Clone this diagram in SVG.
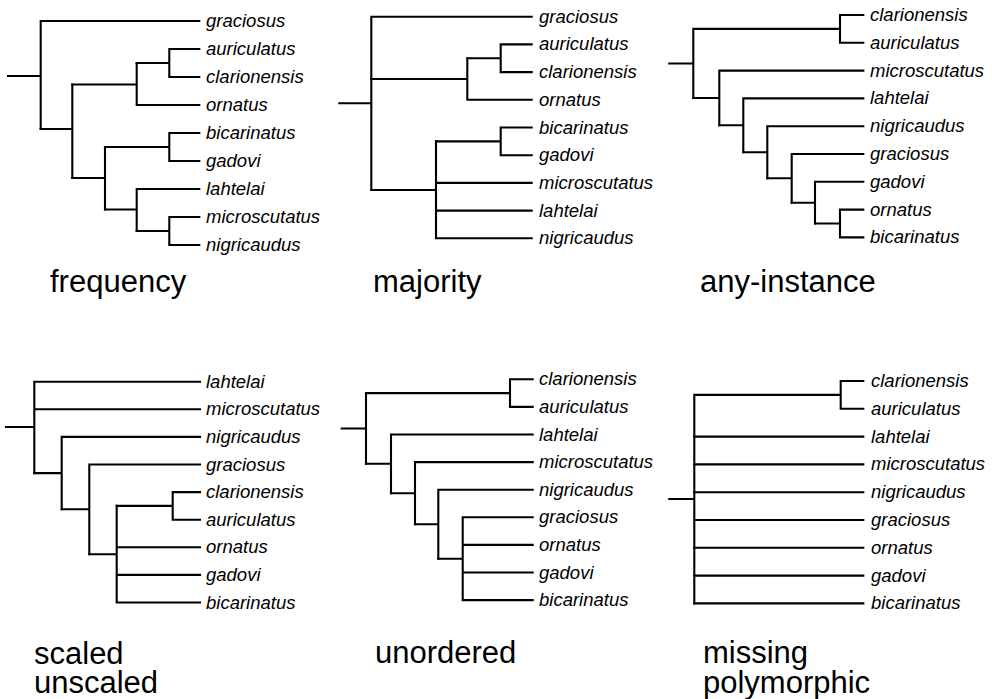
<svg xmlns="http://www.w3.org/2000/svg" width="992" height="699" viewBox="0 0 992 699">
<style>
.br{fill:none;stroke:#000;stroke-width:2.1;stroke-linecap:square;stroke-linejoin:miter}
.lf{font-family:"Liberation Sans",Arial,Helvetica,sans-serif;font-style:italic;font-size:18.5px;fill:#000}
.ttl{font-family:"Liberation Sans",Arial,Helvetica,sans-serif;font-size:31px;fill:#000}
</style>
<rect width="992" height="699" fill="#fff"/>

<!-- Tree 1: frequency -->
<g id="tree-frequency">
<g id="connectors-frequency" class="br">
<path d="M8,76 H40.7 M40.7,21 V129 M40.7,21 H199.3"/>
<path d="M40.7,129 H72.3 M72.3,84.5 V178"/>
<path d="M72.3,84.5 H136.7 M136.7,63 V105 M136.7,105 H199.3"/>
<path d="M136.7,63 H169.3 M169.3,49 V77 M169.3,49 H199.3 M169.3,77 H199.3"/>
<path d="M72.3,178 H105 M105,147 V209.5"/>
<path d="M105,147 H169.3 M169.3,133 V161 M169.3,133 H199.3 M169.3,161 H199.3"/>
<path d="M105,209.5 H136.7 M136.7,189 V231 M136.7,189 H199.3"/>
<path d="M136.7,231 H169.3 M169.3,217 V245 M169.3,217 H199.3 M169.3,245 H199.3"/>
</g>
<g id="f-graciosus"><text class="lf" x="206" y="27">graciosus</text></g>
<g id="f-auriculatus"><text class="lf" x="206" y="55">auriculatus</text></g>
<g id="f-clarionensis"><text class="lf" x="206" y="83">clarionensis</text></g>
<g id="f-ornatus"><text class="lf" x="206" y="111">ornatus</text></g>
<g id="f-bicarinatus"><text class="lf" x="206" y="139">bicarinatus</text></g>
<g id="f-gadovi"><text class="lf" x="206" y="167">gadovi</text></g>
<g id="f-lahtelai"><text class="lf" x="206" y="195">lahtelai</text></g>
<g id="f-microscutatus"><text class="lf" x="206" y="223">microscutatus</text></g>
<g id="f-nigricaudus"><text class="lf" x="206" y="251">nigricaudus</text></g>
<g id="t-frequency"><text class="ttl" x="50" y="292">frequency</text></g>
</g>

<!-- Tree 2: majority -->
<g id="tree-majority">
<g id="connectors-majority" class="br">
<path d="M339.3,103.3 H371.3 M371.3,16.7 V190 M371.3,16.7 H531.7"/>
<path d="M371.3,79 H467.3 M467.3,58.3 V99.8 M467.3,99.8 H531.7"/>
<path d="M467.3,58.3 H500.7 M500.7,44.4 V72.1 M500.7,44.4 H531.7 M500.7,72.1 H531.7"/>
<path d="M371.3,190 H436 M436,141.4 V238.3 M436,182.9 H531.7 M436,210.6 H531.7 M436,238.3 H531.7"/>
<path d="M436,141.4 H500.7 M500.7,127.5 V155.2 M500.7,127.5 H531.7 M500.7,155.2 H531.7"/>
</g>
<g id="m-graciosus"><text class="lf" x="539" y="22.7">graciosus</text></g>
<g id="m-auriculatus"><text class="lf" x="539" y="50.4">auriculatus</text></g>
<g id="m-clarionensis"><text class="lf" x="539" y="78.1">clarionensis</text></g>
<g id="m-ornatus"><text class="lf" x="539" y="105.8">ornatus</text></g>
<g id="m-bicarinatus"><text class="lf" x="539" y="133.5">bicarinatus</text></g>
<g id="m-gadovi"><text class="lf" x="539" y="161.2">gadovi</text></g>
<g id="m-microscutatus"><text class="lf" x="539" y="188.9">microscutatus</text></g>
<g id="m-lahtelai"><text class="lf" x="539" y="216.6">lahtelai</text></g>
<g id="m-nigricaudus"><text class="lf" x="539" y="244.3">nigricaudus</text></g>
<g id="t-majority"><text class="ttl" x="373" y="292">majority</text></g>
</g>

<!-- Tree 3: any-instance -->
<g id="tree-any-instance">
<g id="connectors-any-instance" class="br">
<path d="M669.3,63.5 H693.3 M693.3,28.9 V98 M693.3,28.9 H840 M840,15 V42.8 M840,15 H863.3 M840,42.8 H863.3"/>
<path d="M693.3,98 H719.3 M719.3,70.6 V125.3 M719.3,70.6 H863.3"/>
<path d="M719.3,125.3 H743.3 M743.3,98.4 V152.3 M743.3,98.4 H863.3"/>
<path d="M743.3,152.3 H767.3 M767.3,126.2 V178.3 M767.3,126.2 H863.3"/>
<path d="M767.3,178.3 H791.7 M791.7,154 V202.7 M791.7,154 H863.3"/>
<path d="M791.7,202.7 H815 M815,181.8 V223.5 M815,181.8 H863.3"/>
<path d="M815,223.5 H840 M840,209.6 V237.4 M840,209.6 H863.3 M840,237.4 H863.3"/>
</g>
<g id="a-clarionensis"><text class="lf" x="870" y="21">clarionensis</text></g>
<g id="a-auriculatus"><text class="lf" x="870" y="48.8">auriculatus</text></g>
<g id="a-microscutatus"><text class="lf" x="870" y="76.6">microscutatus</text></g>
<g id="a-lahtelai"><text class="lf" x="870" y="104.4">lahtelai</text></g>
<g id="a-nigricaudus"><text class="lf" x="870" y="132.2">nigricaudus</text></g>
<g id="a-graciosus"><text class="lf" x="870" y="160">graciosus</text></g>
<g id="a-gadovi"><text class="lf" x="870" y="187.8">gadovi</text></g>
<g id="a-ornatus"><text class="lf" x="870" y="215.6">ornatus</text></g>
<g id="a-bicarinatus"><text class="lf" x="870" y="243.4">bicarinatus</text></g>
<g id="t-any-instance"><text class="ttl" x="700" y="292.3">any-instance</text></g>
</g>

<!-- Tree 4: scaled / unscaled -->
<g id="tree-scaled">
<g id="connectors-scaled" class="br">
<path d="M6,427 H34.3 M34.3,381.7 V473.1 M34.3,381.7 H200 M34.3,409.3 H200"/>
<path d="M34.3,473.1 H61.7 M61.7,436.9 V509.3 M61.7,436.9 H200"/>
<path d="M61.7,509.3 H89.3 M89.3,464.5 V554.2 M89.3,464.5 H200"/>
<path d="M89.3,554.2 H116.7 M116.7,505.9 V602.5 M116.7,547.3 H200 M116.7,574.9 H200 M116.7,602.5 H200"/>
<path d="M116.7,505.9 H172.7 M172.7,492.1 V519.7 M172.7,492.1 H200 M172.7,519.7 H200"/>
</g>
<g id="s-lahtelai"><text class="lf" x="206" y="387.7">lahtelai</text></g>
<g id="s-microscutatus"><text class="lf" x="206" y="415.3">microscutatus</text></g>
<g id="s-nigricaudus"><text class="lf" x="206" y="442.9">nigricaudus</text></g>
<g id="s-graciosus"><text class="lf" x="206" y="470.5">graciosus</text></g>
<g id="s-clarionensis"><text class="lf" x="206" y="498.1">clarionensis</text></g>
<g id="s-auriculatus"><text class="lf" x="206" y="525.7">auriculatus</text></g>
<g id="s-ornatus"><text class="lf" x="206" y="553.3">ornatus</text></g>
<g id="s-gadovi"><text class="lf" x="206" y="580.9">gadovi</text></g>
<g id="s-bicarinatus"><text class="lf" x="206" y="608.5">bicarinatus</text></g>
<g id="t-scaled"><text class="ttl" x="34" y="664.3">scaled<tspan x="34" dy="29">unscaled</tspan></text></g>
</g>

<!-- Tree 5: unordered -->
<g id="tree-unordered">
<g id="connectors-unordered" class="br">
<path d="M341.7,428.5 H366 M366,393.1 V463.8 M366,393.1 H510 M510,379.3 V406.9 M510,379.3 H532.7 M510,406.9 H532.7"/>
<path d="M366,463.8 H391 M391,434.5 V493.2 M391,434.5 H532.7"/>
<path d="M391,493.2 H415 M415,462.1 V524.2 M415,462.1 H532.7"/>
<path d="M415,524.2 H438.3 M438.3,489.7 V558.7 M438.3,489.7 H532.7"/>
<path d="M438.3,558.7 H462.7 M462.7,517.3 V600.1 M462.7,517.3 H532.7 M462.7,544.9 H532.7 M462.7,572.5 H532.7 M462.7,600.1 H532.7"/>
</g>
<g id="u-clarionensis"><text class="lf" x="539" y="385.3">clarionensis</text></g>
<g id="u-auriculatus"><text class="lf" x="539" y="412.9">auriculatus</text></g>
<g id="u-lahtelai"><text class="lf" x="539" y="440.5">lahtelai</text></g>
<g id="u-microscutatus"><text class="lf" x="539" y="468.1">microscutatus</text></g>
<g id="u-nigricaudus"><text class="lf" x="539" y="495.7">nigricaudus</text></g>
<g id="u-graciosus"><text class="lf" x="539" y="523.3">graciosus</text></g>
<g id="u-ornatus"><text class="lf" x="539" y="550.9">ornatus</text></g>
<g id="u-gadovi"><text class="lf" x="539" y="578.5">gadovi</text></g>
<g id="u-bicarinatus"><text class="lf" x="539" y="606.1">bicarinatus</text></g>
<g id="t-unordered"><text class="ttl" x="375" y="662.7">unordered</text></g>
</g>

<!-- Tree 6: missing / polymorphic -->
<g id="tree-missing">
<g id="connectors-missing" class="br">
<path d="M669.3,499 H694.3 M694.3,394.9 V603.4 M694.3,394.9 H840.7 M840.7,381 V408.8 M840.7,381 H863.3 M840.7,408.8 H863.3"/>
<path d="M694.3,436.6 H863.3 M694.3,464.4 H863.3 M694.3,492.2 H863.3 M694.3,520 H863.3 M694.3,547.8 H863.3 M694.3,575.6 H863.3 M694.3,603.4 H863.3"/>
</g>
<g id="p-clarionensis"><text class="lf" x="871" y="387">clarionensis</text></g>
<g id="p-auriculatus"><text class="lf" x="871" y="414.8">auriculatus</text></g>
<g id="p-lahtelai"><text class="lf" x="871" y="442.6">lahtelai</text></g>
<g id="p-microscutatus"><text class="lf" x="871" y="470.4">microscutatus</text></g>
<g id="p-nigricaudus"><text class="lf" x="871" y="498.2">nigricaudus</text></g>
<g id="p-graciosus"><text class="lf" x="871" y="526">graciosus</text></g>
<g id="p-ornatus"><text class="lf" x="871" y="553.8">ornatus</text></g>
<g id="p-gadovi"><text class="lf" x="871" y="581.6">gadovi</text></g>
<g id="p-bicarinatus"><text class="lf" x="871" y="609.4">bicarinatus</text></g>
<g id="t-missing"><text class="ttl" x="703" y="663.3">missing<tspan x="703" dy="29.4">polymorphic</tspan></text></g>
</g>
</svg>
